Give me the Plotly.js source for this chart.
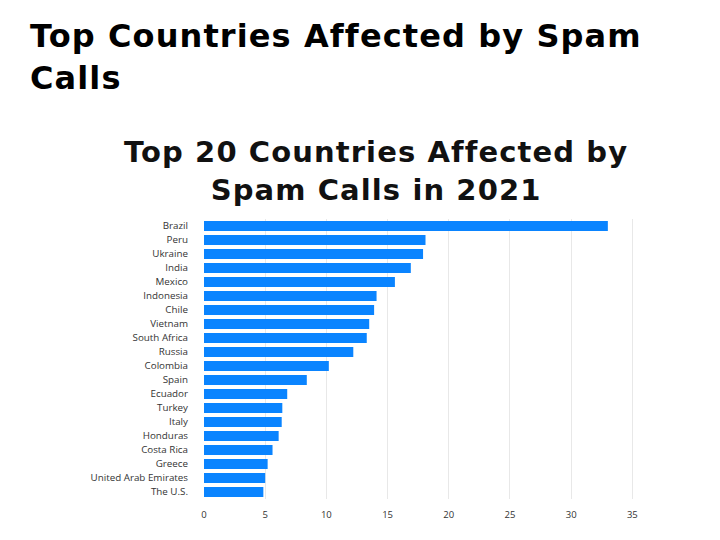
<!DOCTYPE html>
<html>
<head>
<meta charset="utf-8">
<script src="https://cdn.plot.ly/plotly-3.0.1.min.js"></script>
<style>html,body{margin:0;padding:0;background:#fff;}#chart{width:720px;height:540px;}</style>
</head>
<body>
<div id="chart"></div>
<script>
const countries = ["Brazil","Peru","Ukraine","India","Mexico","Indonesia","Chile","Vietnam","South Africa","Russia","Colombia","Spain","Ecuador","Turkey","Italy","Honduras","Costa Rica","Greece","United Arab Emirates","The U.S."];
const spamCalls = [33.0,18.1,17.9,16.9,15.6,14.1,13.9,13.5,13.3,12.2,10.2,8.4,6.8,6.4,6.35,6.1,5.6,5.2,5.0,4.85];
const xTicks = [0,5,10,15,20,25,30,35];
const pageTitleLines = ["Top Countries Affected by Spam", "Calls"];
const chartTitleLines = ["Top 20 Countries Affected by", "Spam Calls in 2021"];

const trace = {
  type: "bar",
  orientation: "h",
  y: countries,
  x: spamCalls,
  marker: {color: "#0a84ff"},
  width: 0.72,
  hoverinfo: "x+y"
};

// pixel helpers for annotation placement (plot area: x 204..636, y 219..499)
const L = 204, T = 219, PW = 432, PH = 280;
const px2x = p => (p - L) / PW;
const py2y = p => (T + PH - p) / PH;

const spaced = (lines, ls) => lines.map(s => '<span style="letter-spacing:' + ls + 'px">' + s + '</span>').join('<br>');

const annotations = [
  {text: spaced(pageTitleLines, 1.1), x: px2x(28), y: py2y(57), xanchor: "left", yanchor: "middle", align: "left",
   font: {family: "DejaVu Sans", size: 32, color: "#000", weight: 700}},
  {text: spaced(chartTitleLines, 1.1), x: px2x(376), y: py2y(171), xanchor: "center", yanchor: "middle", align: "center",
   font: {family: "DejaVu Sans", size: 29, color: "#111", weight: 700}}
].map(a => Object.assign({xref: "paper", yref: "paper", showarrow: false}, a));

const layout = {
  width: 720, height: 540,
  margin: {l: 204, r: 84, t: 219, b: 41},
  paper_bgcolor: "#fff", plot_bgcolor: "#fff",
  showlegend: false,
  xaxis: {
    range: [0, 35.3],
    tickvals: xTicks,
    showgrid: true, gridcolor: "#e8e8e8", gridwidth: 1,
    zeroline: false, showline: false,
    ticks: "", tickfont: {family: "Open Sans", size: 9.5, color: "#333"},
    ticklabelstandoff: 8
  },
  yaxis: {
    autorange: "reversed",
    categoryorder: "array", categoryarray: countries,
    showgrid: false, zeroline: false, showline: false,
    ticks: "", tickfont: {family: "Open Sans", size: 9.8, color: "#333"},
    ticklabelstandoff: 15
  },
  annotations: annotations
};

Plotly.newPlot("chart", [trace], layout, {displayModeBar: false});
</script>
</body>
</html>
